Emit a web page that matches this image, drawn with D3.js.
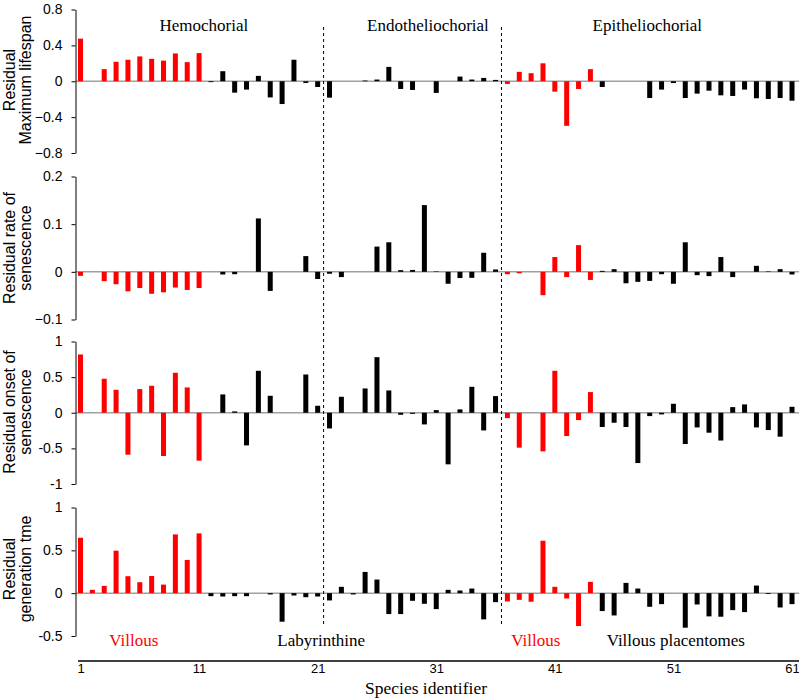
<!DOCTYPE html>
<html>
<head>
<meta charset="utf-8">
<title>Residual life-history traits by species</title>
<style>
    body { margin: 0; background: #fff; }
    .tick text { font-family: "Liberation Sans", Arial, sans-serif; font-size: 14px; fill: #000; }
    .ylab { font-family: "Liberation Sans", Arial, sans-serif; font-size: 16px; fill: #000; }
    .serif { font-family: "Liberation Serif", "Times New Roman", serif; font-size: 17px; }
    .zero { stroke: #a0a0a0; stroke-width: 1.5; }
    .divider { stroke: #000; stroke-width: 1; stroke-dasharray: 3,3; }
</style>
</head>
<body>
<div id="chart"></div>
<script src="https://cdnjs.cloudflare.com/ajax/libs/d3/7.8.5/d3.min.js"></script>
<script>
// residuals per species (species 1..61, in order)
var lifespan = [0.475, 0, 0.135, 0.217, 0.24, 0.277, 0.25, 0.23, 0.31, 0.213,
    0.314, -0.01, 0.112, -0.127, -0.093, 0.06, -0.18, -0.254, 0.24, -0.019,
    -0.064, -0.183, 0, 0, 0.008, 0.019, 0.16, -0.086, -0.097, 0,
    -0.13, 0, 0.052, 0.019, 0.037, 0.015, -0.03, 0.105, 0.09, 0.2,
    -0.116, -0.497, -0.086, 0.135, -0.064, 0, 0, 0, -0.187, -0.093,
    -0.02, -0.187, -0.138, -0.105, -0.157, -0.164, -0.093, -0.19, -0.198, -0.187,
    -0.217];
var rateSen = [-0.0084, 0, -0.0196, -0.026, -0.041, -0.034, -0.046, -0.043, -0.033, -0.038,
    -0.034, 0, -0.0056, -0.005, 0, 0.112, -0.04, 0, 0, 0.033,
    -0.015, -0.004, -0.011, 0, 0, 0.053, 0.062, 0.0035, 0.004, 0.14,
    0.001, -0.025, -0.013, -0.0126, 0.04, 0.005, -0.005, -0.003, 0, -0.049,
    0.031, -0.011, 0.056, -0.017, 0.002, 0.0056, -0.024, -0.021, -0.019, -0.005,
    -0.025, 0.062, -0.007, -0.009, 0.031, -0.011, 0, 0.0126, 0.001, 0.0056,
    -0.0056];
var onsetSen = [0.818, 0, 0.477, 0.322, -0.589, 0.332, 0.379, -0.607, 0.561, 0.355,
    -0.673, 0, 0.257, 0.019, -0.458, 0.589, 0.238, 0, 0, 0.537,
    0.098, -0.22, 0.224, 0, 0.341, 0.78, 0.313, -0.028, -0.015, -0.164,
    0.037, -0.724, 0.047, 0.364, -0.248, 0.234, -0.075, -0.49, 0, -0.542,
    0.589, -0.327, -0.103, 0.29, -0.2, -0.14, -0.2, -0.706, -0.047, -0.023,
    0.126, -0.439, -0.206, -0.28, -0.39, 0.079, 0.117, -0.206, -0.243, -0.336,
    0.084];
var genTime = [0.647, 0.039, 0.085, 0.496, 0.198, 0.128, 0.2, 0.1, 0.686, 0.388,
    0.698, -0.035, -0.039, -0.035, -0.035, 0, -0.015, -0.333, -0.027, -0.047,
    -0.039, -0.085, 0.074, -0.015, 0.248, 0.159, -0.244, -0.244, -0.089, -0.124,
    -0.186, 0.039, 0.031, 0.054, -0.306, -0.105, -0.097, -0.078, -0.1, 0.612,
    0.074, -0.062, -0.384, 0.132, -0.209, -0.26, 0.12, 0.054, -0.159, -0.128,
    0, -0.403, -0.132, -0.271, -0.275, -0.198, -0.221, 0.089, -0.01, -0.167,
    -0.128];

// species with villous placentas (drawn red)
var villous = [1, 2, 3, 4, 5, 6, 7, 8, 9, 10, 11, 37, 38, 39, 40, 41, 42, 43, 44];

var xTicks = [1, 11, 21, 31, 41, 51, 61];
var dividers = [21.5, 36.5];

var interfaceLabels = [
    {text: 'Hemochorial', x: 11.4},
    {text: 'Endotheliochorial', x: 30.3},
    {text: 'Epitheliochorial', x: 48.8}
];
var structureLabels = [
    {text: 'Villous', x: 5.5, color: 'red'},
    {text: 'Labyrinthine', x: 21.3, color: '#000'},
    {text: 'Villous', x: 39.4, color: 'red'},
    {text: 'Villous placentomes', x: 51.2, color: '#000'}
];

var panels = [
    {values: lifespan, domain: [-0.8, 0.8], ticks: [-0.8, -0.4, 0, 0.4, 0.8], fmt: function (d) { return d === 0 ? '0' : d3.format('.1f')(d); },
        range: [153, 9.5], label: ['Residual', 'Maximum lifespan'], labelY: 80},
    {values: rateSen, domain: [-0.1, 0.2], ticks: [-0.1, 0, 0.1, 0.2], fmt: function (d) { return d === 0 ? '0' : d3.format('.1f')(d); },
        range: [319.5, 176.5], label: ['Residual rate of', 'senescence'], labelY: 248},
    {values: onsetSen, domain: [-1, 1], ticks: [-1, -0.5, 0, 0.5, 1], fmt: function (d) { return String(d); },
        range: [484, 341.5], label: ['Residual onset of', 'senescence'], labelY: 412},
    {values: genTime, domain: [-0.5, 1], ticks: [-0.5, 0, 0.5, 1], fmt: function (d) { return String(d); },
        range: [636, 507.5], label: ['Residual', 'generation tme'], labelY: 569}
];

var width = 799, height = 698;
var axisX = 75.5, rightEdge = 799;

var svg = d3.select('#chart').append('svg')
    .attr('width', width)
    .attr('height', height);

var x = d3.scaleLinear().domain([1, 61]).range([80.5, 792]);
var barW = 5;

panels.forEach(function (p) {
    var y = d3.scaleLinear().domain(p.domain).range(p.range);
    var g = svg.append('g');

    // zero reference line
    g.append('line')
        .attr('class', 'zero')
        .attr('x1', axisX).attr('x2', rightEdge)
        .attr('y1', y(0)).attr('y2', y(0));

    // bars
    g.selectAll('rect')
        .data(p.values)
        .enter()
        .append('rect')
        .attr('x', function (d, i) { return x(i + 1) - barW / 2; })
        .attr('y', function (d) { return y(Math.max(0, d)); })
        .attr('width', barW)
        .attr('height', function (d) { return Math.abs(y(d) - y(0)); })
        .attr('fill', function (d, i) { return villous.indexOf(i + 1) >= 0 ? 'red' : '#000'; });

    // y axis
    var ax = g.append('g')
        .attr('transform', 'translate(' + axisX + ',0)')
        .call(d3.axisLeft(y).tickValues(p.ticks).tickFormat(p.fmt).tickSize(4).tickSizeOuter(0).tickPadding(9));
    ax.select('.domain').attr('stroke', '#000');
    ax.selectAll('.tick line').attr('stroke', '#000');

    // axis title (two lines)
    var t = g.append('text')
        .attr('class', 'ylab')
        .attr('text-anchor', 'middle')
        .attr('transform', 'translate(15,' + p.labelY + ') rotate(-90)');
    t.append('tspan').attr('x', 0).attr('y', 0).text(p.label[0]);
    t.append('tspan').attr('x', 0).attr('y', 16).text(p.label[1]);
});

// dashed dividers between placental interface groups
svg.selectAll('line.divider')
    .data(dividers)
    .enter()
    .append('line')
    .attr('class', 'divider')
    .attr('x1', function (d) { return x(d); })
    .attr('x2', function (d) { return x(d); })
    .attr('y1', 27)
    .attr('y2', 626);

svg.selectAll('text.iface')
    .data(interfaceLabels)
    .enter()
    .append('text')
    .attr('class', 'iface serif')
    .attr('text-anchor', 'middle')
    .attr('x', function (d) { return x(d.x); })
    .attr('y', 30.5)
    .text(function (d) { return d.text; });

svg.selectAll('text.struct')
    .data(structureLabels)
    .enter()
    .append('text')
    .attr('class', 'struct serif')
    .attr('text-anchor', 'middle')
    .attr('x', function (d) { return x(d.x); })
    .attr('y', 645.5)
    .attr('fill', function (d) { return d.color; })
    .text(function (d) { return d.text; });

// bottom species axis
var xAxis = svg.append('g')
    .attr('transform', 'translate(0,661)')
    .call(d3.axisBottom(x).tickValues(xTicks).tickFormat(d3.format('d')).tickSize(0).tickPadding(3));
xAxis.select('.domain').attr('d', 'M78,0H' + rightEdge).attr('stroke', '#000').attr('stroke-width', 1.5);
xAxis.selectAll('.tick text').style('font-size', '13px');

svg.append('text')
    .attr('class', 'serif')
    .attr('text-anchor', 'middle')
    .attr('x', 426)
    .attr('y', 694)
    .style('font-size', '17.5px')
    .text('Species identifier');
</script>
</body>
</html>
